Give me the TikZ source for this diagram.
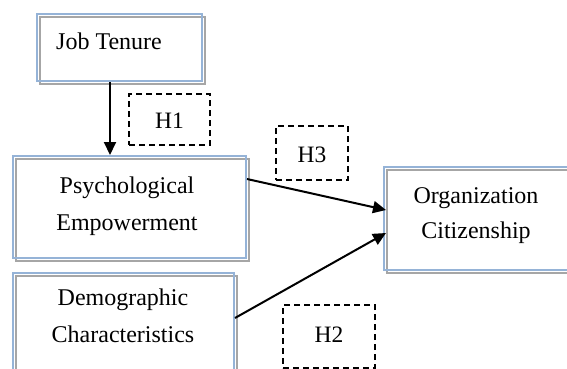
\documentclass[tikz,border=0pt]{standalone}
\usepackage{fontspec}
\setmainfont{Liberation Serif}
\usetikzlibrary{arrows.meta,calc}
\definecolor{boxblue}{HTML}{95B3D7}
\definecolor{boxgray}{HTML}{A6A6A6}
\tikzset{
  conceptbox/.style={draw=boxblue, line width=2pt, rectangle, inner sep=0pt, anchor=north west,
    preaction={draw=boxgray, line width=1.2pt, transform canvas={shift={(3pt,-3pt)}}}},
  labeltext/.style={font=\fontsize{24}{37}\selectfont, text=black, align=center, inner sep=0pt},
  hyptext/.style={font=\fontsize{23.5}{28}\selectfont, text=black, inner sep=0pt},
  hypbox/.style={draw=black, line width=2pt, dash pattern=on 6pt off 4pt, rectangle, inner sep=0pt, anchor=north west},
  link/.style={draw=black, line width=2pt, -{Triangle[length=13pt,width=12pt]}}
}
\begin{document}
\begin{tikzpicture}[x=1pt,y=-1pt]
\useasboundingbox (0,0) rectangle (567,369);
% boxes
\node[conceptbox, minimum width=165pt, minimum height=67pt] (jt) at (36,13) {};
\node[conceptbox, minimum width=233pt, minimum height=102pt] (pe) at (12,155) {};
\node[conceptbox, minimum width=221pt, minimum height=98pt] (dc) at (12,272) {};
\node[conceptbox, minimum width=200pt, minimum height=103pt] (oc) at (383,166) {};
% texts (base = baseline of last line)
\node[labeltext, anchor=base] (jtt) at (109,50) {Job Tenure};
\node[labeltext, anchor=base] (pet) at (127,230) {Psychological\\Empowerment};
\node[labeltext, anchor=base] (dct) at (123,342) {Demographic\\Characteristics};
\node[labeltext, anchor=base, font=\fontsize{24}{35}\selectfont] (oct) at (476,238) {Organization\\Citizenship};
% hypothesis boxes
\node[hypbox, minimum width=81pt, minimum height=51pt] (h1) at (128,93) {};
\node[hyptext] (h1t) at ($(h1.center)+(0,1)$) {H1};
\node[hypbox, minimum width=72pt, minimum height=54pt] (h3) at (275,125) {};
\node[hyptext] (h3t) at ($(h3.center)+(0,2)$) {H3};
\node[hypbox, minimum width=92pt, minimum height=63pt] (h2) at (282,304) {};
\node[hyptext] (h2t) at ($(h2.center)+(0,-2)$) {H2};
% connectors
\draw[link] ([xshift=-9.5pt]jt.south) -- ([xshift=-19.5pt]pe.north);
\draw[link] ([yshift=28pt]pe.east) -- ([xshift=3pt,yshift=8.5pt]oc.west);
\draw[link] ([yshift=4pt]dc.east) -- ([xshift=3pt,yshift=-14.5pt]oc.west);
\end{tikzpicture}
\end{document}
